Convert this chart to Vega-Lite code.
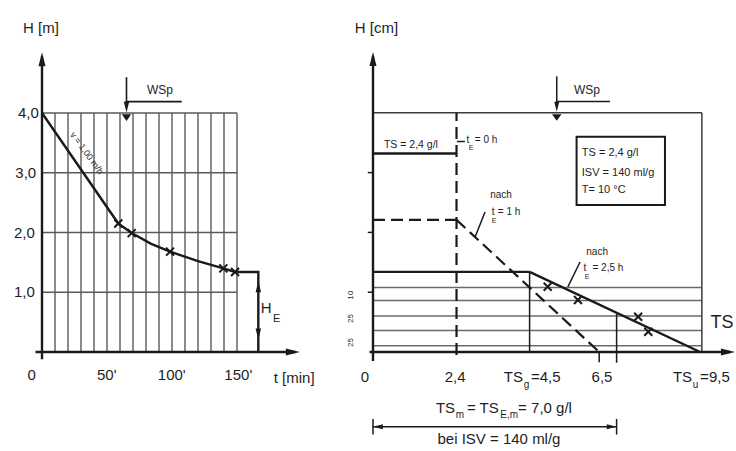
{
  "$schema": "https://vega.github.io/schema/vega-lite/v6.json",
  "width": 736,
  "height": 451,
  "autosize": "none",
  "padding": 0,
  "background": "white",
  "config": {
    "view": {"stroke": null},
    "text": {"font": "Liberation Sans", "color": "#1e1e1e", "baseline": "middle"}
  },
  "datasets": {
    "lseg": [
      {"kind": "grid", "t": 10, "t2": 10, "H": 0, "H2": 4},
      {"kind": "grid", "t": 20, "t2": 20, "H": 0, "H2": 4},
      {"kind": "grid", "t": 30, "t2": 30, "H": 0, "H2": 4},
      {"kind": "grid", "t": 40, "t2": 40, "H": 0, "H2": 4},
      {"kind": "grid", "t": 50, "t2": 50, "H": 0, "H2": 4},
      {"kind": "grid", "t": 60, "t2": 60, "H": 0, "H2": 4},
      {"kind": "grid", "t": 70, "t2": 70, "H": 0, "H2": 4},
      {"kind": "grid", "t": 80, "t2": 80, "H": 0, "H2": 4},
      {"kind": "grid", "t": 90, "t2": 90, "H": 0, "H2": 4},
      {"kind": "grid", "t": 100, "t2": 100, "H": 0, "H2": 4},
      {"kind": "grid", "t": 110, "t2": 110, "H": 0, "H2": 4},
      {"kind": "grid", "t": 120, "t2": 120, "H": 0, "H2": 4},
      {"kind": "grid", "t": 130, "t2": 130, "H": 0, "H2": 4},
      {"kind": "grid", "t": 140, "t2": 140, "H": 0, "H2": 4},
      {"kind": "grid", "t": 150, "t2": 150, "H": 0, "H2": 4},
      {"kind": "grid", "t": 0, "t2": 150, "H": 1, "H2": 1},
      {"kind": "grid", "t": 0, "t2": 150, "H": 2, "H2": 2},
      {"kind": "grid", "t": 0, "t2": 150, "H": 3, "H2": 3},
      {"kind": "grid", "t": 0, "t2": 150, "H": 4, "H2": 4},
      {"kind": "axis", "t": 0, "t2": 0, "H": -0.12, "H2": 4.95},
      {"kind": "axis", "t": -5, "t2": 195, "H": 0, "H2": 0},
      {"kind": "wsp", "t": 65, "t2": 65, "H": 4.6, "H2": 4.12},
      {"kind": "wsp", "t": 65, "t2": 107.5, "H": 4.19, "H2": 4.19}
    ],
    "lcurve": [
      {"i": 0, "t": 0, "H": 4.0},
      {"i": 1, "t": 58.7, "H": 2.15},
      {"i": 2, "t": 69, "H": 1.99},
      {"i": 3, "t": 84, "H": 1.81},
      {"i": 4, "t": 98.5, "H": 1.68},
      {"i": 5, "t": 120, "H": 1.52},
      {"i": 6, "t": 139.5, "H": 1.4},
      {"i": 7, "t": 148.5, "H": 1.34},
      {"i": 8, "t": 166.4, "H": 1.34},
      {"i": 9, "t": 166.4, "H": 0}
    ],
    "lmark": [
      {"t": 58.7, "H": 2.15},
      {"t": 69, "H": 1.99},
      {"t": 98.5, "H": 1.68},
      {"t": 139.5, "H": 1.4},
      {"t": 148.5, "H": 1.34}
    ],
    "larrow": [
      {"kind": "axis", "t": 0, "H": 4.9, "dir": "up"},
      {"kind": "axis", "t": 193, "H": 0, "dir": "right"},
      {"kind": "small", "t": 65, "H": 4.1, "dir": "down"},
      {"kind": "small", "t": 166.4, "H": 1.09, "dir": "up"},
      {"kind": "small", "t": 166.4, "H": 0.3, "dir": "down"}
    ],
    "lwater": [{"t": 65, "H": 3.93}],
    "ltext": [
      {"kind": "tick", "t": -0.8, "H": 5.42, "label": "H [m]"},
      {"kind": "tick", "t": 194, "H": -0.44, "label": "t [min]"},
      {"kind": "ytick", "t": -2.5, "H": 4.0, "label": "4,0"},
      {"kind": "ytick", "t": -4.5, "H": 3.0, "label": "3,0"},
      {"kind": "ytick", "t": -5.5, "H": 2.0, "label": "2,0"},
      {"kind": "ytick", "t": -5.5, "H": 1.0, "label": "1,0"},
      {"kind": "tick", "t": -8, "H": -0.39, "label": "0"},
      {"kind": "tick", "t": 49.8, "H": -0.39, "label": "50'"},
      {"kind": "tick", "t": 99.8, "H": -0.39, "label": "100'"},
      {"kind": "tick", "t": 151, "H": -0.39, "label": "150'"},
      {"kind": "tick", "t": 172.5, "H": 0.74, "label": "H"},
      {"kind": "sub", "t": 180.5, "H": 0.56, "label": "E"},
      {"kind": "wsp", "t": 90.8, "H": 4.38, "label": "WSp"},
      {"kind": "v", "t": 34.5, "H": 3.33, "label": "v = 1,00 m/h"}
    ],
    "rseg": [
      {"kind": "hatch", "TS": 0, "TS2": 9.45, "H": 10.8, "H2": 10.8},
      {"kind": "hatch", "TS": 0, "TS2": 9.45, "H": 8.6, "H2": 8.6},
      {"kind": "hatch", "TS": 0, "TS2": 9.45, "H": 6.0, "H2": 6.0},
      {"kind": "hatch", "TS": 0, "TS2": 9.45, "H": 3.6, "H2": 3.6},
      {"kind": "hatch", "TS": 0, "TS2": 9.45, "H": 1.05, "H2": 1.05},
      {"kind": "frame", "TS": 0, "TS2": 9.45, "H": 40, "H2": 40},
      {"kind": "frame", "TS": 9.45, "TS2": 9.45, "H": 0, "H2": 40},
      {"kind": "axis", "TS": 0, "TS2": 0, "H": -1.5, "H2": 49.5},
      {"kind": "axis", "TS": -0.1, "TS2": 10.25, "H": 0, "H2": 0},
      {"kind": "axis", "TS": 0, "TS2": 2.4, "H": 33.2, "H2": 33.2},
      {"kind": "axis", "TS": 0, "TS2": 4.5, "H": 13.4, "H2": 13.4},
      {"kind": "axis", "TS": 4.5, "TS2": 9.4, "H": 13.4, "H2": 0},
      {"kind": "thin", "TS": 4.5, "TS2": 4.5, "H": 0, "H2": 13.4},
      {"kind": "thin", "TS": 7.0, "TS2": 7.0, "H": -1.8, "H2": 6.5},
      {"kind": "thin", "TS": 6.5, "TS2": 6.5, "H": 0, "H2": -1.7},
      {"kind": "thin", "TS": -0.15, "TS2": 0, "H": 10, "H2": 10},
      {"kind": "thin", "TS": -0.15, "TS2": 0, "H": 20, "H2": 20},
      {"kind": "thin", "TS": -0.15, "TS2": 0, "H": 30, "H2": 30},
      {"kind": "thin", "TS": 0, "TS2": 7.0, "H": -12.5, "H2": -12.5},
      {"kind": "thin", "TS": 0, "TS2": 0, "H": -11.2, "H2": -13.8},
      {"kind": "thin", "TS": 7.0, "TS2": 7.0, "H": -11.2, "H2": -13.8},
      {"kind": "thin", "TS": 5.28, "TS2": 5.28, "H": 46.1, "H2": 41.2},
      {"kind": "thin", "TS": 5.28, "TS2": 6.81, "H": 41.9, "H2": 41.9},
      {"kind": "leader", "TS": 3.22, "TS2": 2.93, "H": 23.4, "H2": 19.2},
      {"kind": "leader", "TS": 5.95, "TS2": 5.6, "H": 15.05, "H2": 10.9},
      {"kind": "leader", "TS": 2.41, "TS2": 2.64, "H": 35.2, "H2": 35.2},
      {"kind": "dash", "TS": 2.4, "TS2": 2.4, "H": -0.5, "H2": 40},
      {"kind": "dash", "TS": 0, "TS2": 2.4, "H": 22.1, "H2": 22.1},
      {"kind": "dash", "TS": 2.4, "TS2": 6.5, "H": 22.1, "H2": 0}
    ],
    "rmark": [
      {"TS": 5.02, "H": 10.9},
      {"TS": 5.89, "H": 8.7},
      {"TS": 7.62, "H": 5.9},
      {"TS": 7.91, "H": 3.4}
    ],
    "rarrow": [
      {"kind": "axis", "TS": 0, "H": 49.0, "dir": "up"},
      {"kind": "axis", "TS": 10.2, "H": 0, "dir": "right"},
      {"kind": "small", "TS": 5.28, "H": 41.0, "dir": "down"},
      {"kind": "small", "TS": 0.14, "H": -12.5, "dir": "left"},
      {"kind": "small", "TS": 6.86, "H": -12.5, "dir": "right"}
    ],
    "rwater": [{"TS": 5.28, "H": 39.3}],
    "rbox": [{"TS": 5.85, "TS2": 8.39, "H": 24.6, "H2": 36.0}],
    "rtext": [
      {"kind": "title", "TS": 0.1, "H": 54.2, "label": "H [cm]"},
      {"kind": "lab11", "TS": 1.09, "H": 34.6, "label": "TS = 2,4 g/l"},
      {"kind": "box", "TS": 6.0, "H": 33.2, "label": "TS = 2,4 g/l"},
      {"kind": "box", "TS": 6.0, "H": 29.9, "label": "ISV = 140 ml/g"},
      {"kind": "box", "TS": 6.0, "H": 27.1, "label": "T= 10 °C"},
      {"kind": "small", "TS": 2.73, "H": 35.45, "label": "t"},
      {"kind": "small", "TS": 3.25, "H": 35.45, "label": "= 0 h"},
      {"kind": "small", "TS": 3.68, "H": 26.3, "label": "nach"},
      {"kind": "small", "TS": 3.45, "H": 23.4, "label": "t"},
      {"kind": "small", "TS": 3.91, "H": 23.4, "label": "= 1 h"},
      {"kind": "small", "TS": 6.44, "H": 16.7, "label": "nach"},
      {"kind": "small", "TS": 6.09, "H": 14.0, "label": "t"},
      {"kind": "small", "TS": 6.75, "H": 14.0, "label": "= 2,5 h"},
      {"kind": "sub7", "TS": 2.82, "H": 34.1, "label": "E"},
      {"kind": "sub7", "TS": 3.48, "H": 21.9, "label": "E"},
      {"kind": "sub7", "TS": 6.15, "H": 12.5, "label": "E"},
      {"kind": "wsp", "TS": 6.15, "H": 43.8, "label": "WSp"},
      {"kind": "tick", "TS": -0.23, "H": -4.2, "label": "0"},
      {"kind": "tick", "TS": 2.36, "H": -4.2, "label": "2,4"},
      {"kind": "tick", "TS": 6.58, "H": -4.2, "label": "6,5"},
      {"kind": "tickR", "TS": 4.31, "H": -4.2, "label": "TS"},
      {"kind": "tickL", "TS": 4.54, "H": -4.2, "label": "=4,5"},
      {"kind": "tickR", "TS": 9.17, "H": -4.2, "label": "TS"},
      {"kind": "tickL", "TS": 9.4, "H": -4.2, "label": "=9,5"},
      {"kind": "subL", "TS": 4.33, "H": -5.6, "label": "g"},
      {"kind": "subL", "TS": 9.19, "H": -5.6, "label": "u"},
      {"kind": "big", "TS": 10.03, "H": 4.85, "label": "TS"},
      {"kind": "tickR", "TS": 2.36, "H": -9.4, "label": "TS"},
      {"kind": "tickL", "TS": 2.7, "H": -9.4, "label": "= TS"},
      {"kind": "tickL", "TS": 4.17, "H": -9.4, "label": "= 7,0 g/l"},
      {"kind": "subL", "TS": 2.38, "H": -10.5, "label": "m"},
      {"kind": "subL", "TS": 3.66, "H": -10.5, "label": "E,m"},
      {"kind": "dim", "TS": 3.62, "H": -14.5, "label": "bei ISV = 140 ml/g"},
      {"kind": "rot", "TS": -0.62, "H": 9.5, "label": "10"},
      {"kind": "rot", "TS": -0.62, "H": 5.6, "label": "25"},
      {"kind": "rot", "TS": -0.62, "H": 1.6, "label": "25"}
    ]
  },
  "layer": [
    {
      "encoding": {
        "x": {"field": "t", "type": "quantitative", "scale": {"domain": [0, 200], "range": [42, 302], "nice": false, "zero": false}, "axis": null},
        "y": {"field": "H", "type": "quantitative", "scale": {"domain": [0, 5], "range": [352, 53.25], "nice": false, "zero": false}, "axis": null}
      },
      "layer": [
        {
          "data": {"name": "lseg"},
          "transform": [{"filter": "datum.kind === 'grid'"}],
          "mark": {"type": "rule", "color": "#5a5a5a", "strokeWidth": 1.4},
          "encoding": {"x2": {"field": "t2"}, "y2": {"field": "H2"}}
        },
        {
          "data": {"name": "lseg"},
          "transform": [{"filter": "datum.kind === 'axis'"}],
          "mark": {"type": "rule", "color": "#1a1a1a", "strokeWidth": 2.4},
          "encoding": {"x2": {"field": "t2"}, "y2": {"field": "H2"}}
        },
        {
          "data": {"name": "lseg"},
          "transform": [{"filter": "datum.kind === 'wsp'"}],
          "mark": {"type": "rule", "color": "#1a1a1a", "strokeWidth": 1.6},
          "encoding": {"x2": {"field": "t2"}, "y2": {"field": "H2"}}
        },
        {
          "data": {"name": "lcurve"},
          "mark": {"type": "line", "color": "#1a1a1a", "strokeWidth": 2.4},
          "encoding": {"order": {"field": "i", "type": "quantitative"}}
        },
        {
          "data": {"name": "lmark"},
          "mark": {"type": "point", "shape": "M-1,-1L1,1M-1,1L1,-1", "filled": false, "color": "#1a1a1a", "strokeWidth": 2, "size": 64, "opacity": 1}
        },
        {
          "data": {"name": "lwater"},
          "mark": {"type": "point", "shape": "M-1,-0.6L1,-0.6L0,0.8Z", "filled": true, "color": "#1a1a1a", "size": 90, "opacity": 1}
        },
        {
          "data": {"name": "larrow"},
          "transform": [{"filter": "datum.kind === 'axis'"}],
          "mark": {"type": "point", "filled": true, "color": "#1a1a1a", "size": 196, "opacity": 1},
          "encoding": {"shape": {"field": "dir", "type": "nominal", "legend": null, "scale": {"domain": ["up", "down", "right", "left"], "range": ["M0,-1L0.5,1L-0.5,1Z", "M0,1L0.5,-1L-0.5,-1Z", "M1,0L-1,0.5L-1,-0.5Z", "M-1,0L1,0.5L1,-0.5Z"]}}}
        },
        {
          "data": {"name": "larrow"},
          "transform": [{"filter": "datum.kind === 'small'"}],
          "mark": {"type": "point", "filled": true, "color": "#1a1a1a", "size": 121, "opacity": 1},
          "encoding": {"shape": {"field": "dir", "type": "nominal", "legend": null, "scale": {"domain": ["up", "down", "right", "left"], "range": ["M0,-1L0.5,1L-0.5,1Z", "M0,1L0.5,-1L-0.5,-1Z", "M1,0L-1,0.5L-1,-0.5Z", "M-1,0L1,0.5L1,-0.5Z"]}}}
        },
        {
          "data": {"name": "ltext"},
          "transform": [{"filter": "datum.kind === 'tick'"}],
          "mark": {"type": "text", "fontSize": 15},
          "encoding": {"text": {"field": "label"}}
        },
        {
          "data": {"name": "ltext"},
          "transform": [{"filter": "datum.kind === 'ytick'"}],
          "mark": {"type": "text", "fontSize": 15, "align": "right"},
          "encoding": {"text": {"field": "label"}}
        },
        {
          "data": {"name": "ltext"},
          "transform": [{"filter": "datum.kind === 'wsp'"}],
          "mark": {"type": "text", "fontSize": 12},
          "encoding": {"text": {"field": "label"}}
        },
        {
          "data": {"name": "ltext"},
          "transform": [{"filter": "datum.kind === 'sub'"}],
          "mark": {"type": "text", "fontSize": 11},
          "encoding": {"text": {"field": "label"}}
        },
        {
          "data": {"name": "ltext"},
          "transform": [{"filter": "datum.kind === 'v'"}],
          "mark": {"type": "text", "fontSize": 9, "angle": 54},
          "encoding": {"text": {"field": "label"}}
        }
      ]
    },
    {
      "encoding": {
        "x": {"field": "TS", "type": "quantitative", "scale": {"domain": [0, 10.4], "range": [373, 734.92], "nice": false, "zero": false}, "axis": null},
        "y": {"field": "H", "type": "quantitative", "scale": {"domain": [0, 50], "range": [352, 53], "nice": false, "zero": false}, "axis": null}
      },
      "layer": [
        {
          "data": {"name": "rseg"},
          "transform": [{"filter": "datum.kind === 'hatch'"}],
          "mark": {"type": "rule", "color": "#6a6a6a", "strokeWidth": 1.5},
          "encoding": {"x2": {"field": "TS2"}, "y2": {"field": "H2"}}
        },
        {
          "data": {"name": "rseg"},
          "transform": [{"filter": "datum.kind === 'frame'"}],
          "mark": {"type": "rule", "color": "#3a3a3a", "strokeWidth": 1.5},
          "encoding": {"x2": {"field": "TS2"}, "y2": {"field": "H2"}}
        },
        {
          "data": {"name": "rseg"},
          "transform": [{"filter": "datum.kind === 'axis'"}],
          "mark": {"type": "rule", "color": "#1a1a1a", "strokeWidth": 2.4},
          "encoding": {"x2": {"field": "TS2"}, "y2": {"field": "H2"}}
        },
        {
          "data": {"name": "rseg"},
          "transform": [{"filter": "datum.kind === 'thin' || datum.kind === 'leader'"}],
          "mark": {"type": "rule", "color": "#1a1a1a", "strokeWidth": 1.5},
          "encoding": {"x2": {"field": "TS2"}, "y2": {"field": "H2"}}
        },
        {
          "data": {"name": "rseg"},
          "transform": [{"filter": "datum.kind === 'dash'"}],
          "mark": {"type": "rule", "color": "#1a1a1a", "strokeWidth": 2.2, "strokeDash": [12, 6]},
          "encoding": {"x2": {"field": "TS2"}, "y2": {"field": "H2"}}
        },
        {
          "data": {"name": "rbox"},
          "mark": {"type": "rect", "fill": "white", "stroke": "#1a1a1a", "strokeWidth": 2},
          "encoding": {"x2": {"field": "TS2"}, "y2": {"field": "H2"}}
        },
        {
          "data": {"name": "rmark"},
          "mark": {"type": "point", "shape": "M-1,-1L1,1M-1,1L1,-1", "filled": false, "color": "#1a1a1a", "strokeWidth": 2, "size": 64, "opacity": 1}
        },
        {
          "data": {"name": "rwater"},
          "mark": {"type": "point", "shape": "M-1,-0.6L1,-0.6L0,0.8Z", "filled": true, "color": "#1a1a1a", "size": 90, "opacity": 1}
        },
        {
          "data": {"name": "rarrow"},
          "transform": [{"filter": "datum.kind === 'axis'"}],
          "mark": {"type": "point", "filled": true, "color": "#1a1a1a", "size": 196, "opacity": 1},
          "encoding": {"shape": {"field": "dir", "type": "nominal", "legend": null, "scale": {"domain": ["up", "down", "right", "left"], "range": ["M0,-1L0.5,1L-0.5,1Z", "M0,1L0.5,-1L-0.5,-1Z", "M1,0L-1,0.5L-1,-0.5Z", "M-1,0L1,0.5L1,-0.5Z"]}}}
        },
        {
          "data": {"name": "rarrow"},
          "transform": [{"filter": "datum.kind === 'small'"}],
          "mark": {"type": "point", "filled": true, "color": "#1a1a1a", "size": 100, "opacity": 1},
          "encoding": {"shape": {"field": "dir", "type": "nominal", "legend": null, "scale": {"domain": ["up", "down", "right", "left"], "range": ["M0,-1L0.5,1L-0.5,1Z", "M0,1L0.5,-1L-0.5,-1Z", "M1,0L-1,0.5L-1,-0.5Z", "M-1,0L1,0.5L1,-0.5Z"]}}}
        },
        {
          "data": {"name": "rtext"},
          "transform": [{"filter": "datum.kind === 'title' || datum.kind === 'tick' || datum.kind === 'dim'"}],
          "mark": {"type": "text", "fontSize": 15},
          "encoding": {"text": {"field": "label"}}
        },
        {
          "data": {"name": "rtext"},
          "transform": [{"filter": "datum.kind === 'tickR'"}],
          "mark": {"type": "text", "fontSize": 15, "align": "right"},
          "encoding": {"text": {"field": "label"}}
        },
        {
          "data": {"name": "rtext"},
          "transform": [{"filter": "datum.kind === 'tickL'"}],
          "mark": {"type": "text", "fontSize": 15, "align": "left"},
          "encoding": {"text": {"field": "label"}}
        },
        {
          "data": {"name": "rtext"},
          "transform": [{"filter": "datum.kind === 'subL'"}],
          "mark": {"type": "text", "fontSize": 10, "align": "left"},
          "encoding": {"text": {"field": "label"}}
        },
        {
          "data": {"name": "rtext"},
          "transform": [{"filter": "datum.kind === 'big'"}],
          "mark": {"type": "text", "fontSize": 18},
          "encoding": {"text": {"field": "label"}}
        },
        {
          "data": {"name": "rtext"},
          "transform": [{"filter": "datum.kind === 'lab11'"}],
          "mark": {"type": "text", "fontSize": 10.5},
          "encoding": {"text": {"field": "label"}}
        },
        {
          "data": {"name": "rtext"},
          "transform": [{"filter": "datum.kind === 'box'"}],
          "mark": {"type": "text", "fontSize": 11, "align": "left"},
          "encoding": {"text": {"field": "label"}}
        },
        {
          "data": {"name": "rtext"},
          "transform": [{"filter": "datum.kind === 'small'"}],
          "mark": {"type": "text", "fontSize": 10},
          "encoding": {"text": {"field": "label"}}
        },
        {
          "data": {"name": "rtext"},
          "transform": [{"filter": "datum.kind === 'sub7'"}],
          "mark": {"type": "text", "fontSize": 7},
          "encoding": {"text": {"field": "label"}}
        },
        {
          "data": {"name": "rtext"},
          "transform": [{"filter": "datum.kind === 'wsp'"}],
          "mark": {"type": "text", "fontSize": 12},
          "encoding": {"text": {"field": "label"}}
        },
        {
          "data": {"name": "rtext"},
          "transform": [{"filter": "datum.kind === 'rot'"}],
          "mark": {"type": "text", "fontSize": 8, "angle": 270},
          "encoding": {"text": {"field": "label"}}
        }
      ]
    }
  ],
  "resolve": {"scale": {"x": "independent", "y": "independent", "shape": "independent"}}
}
